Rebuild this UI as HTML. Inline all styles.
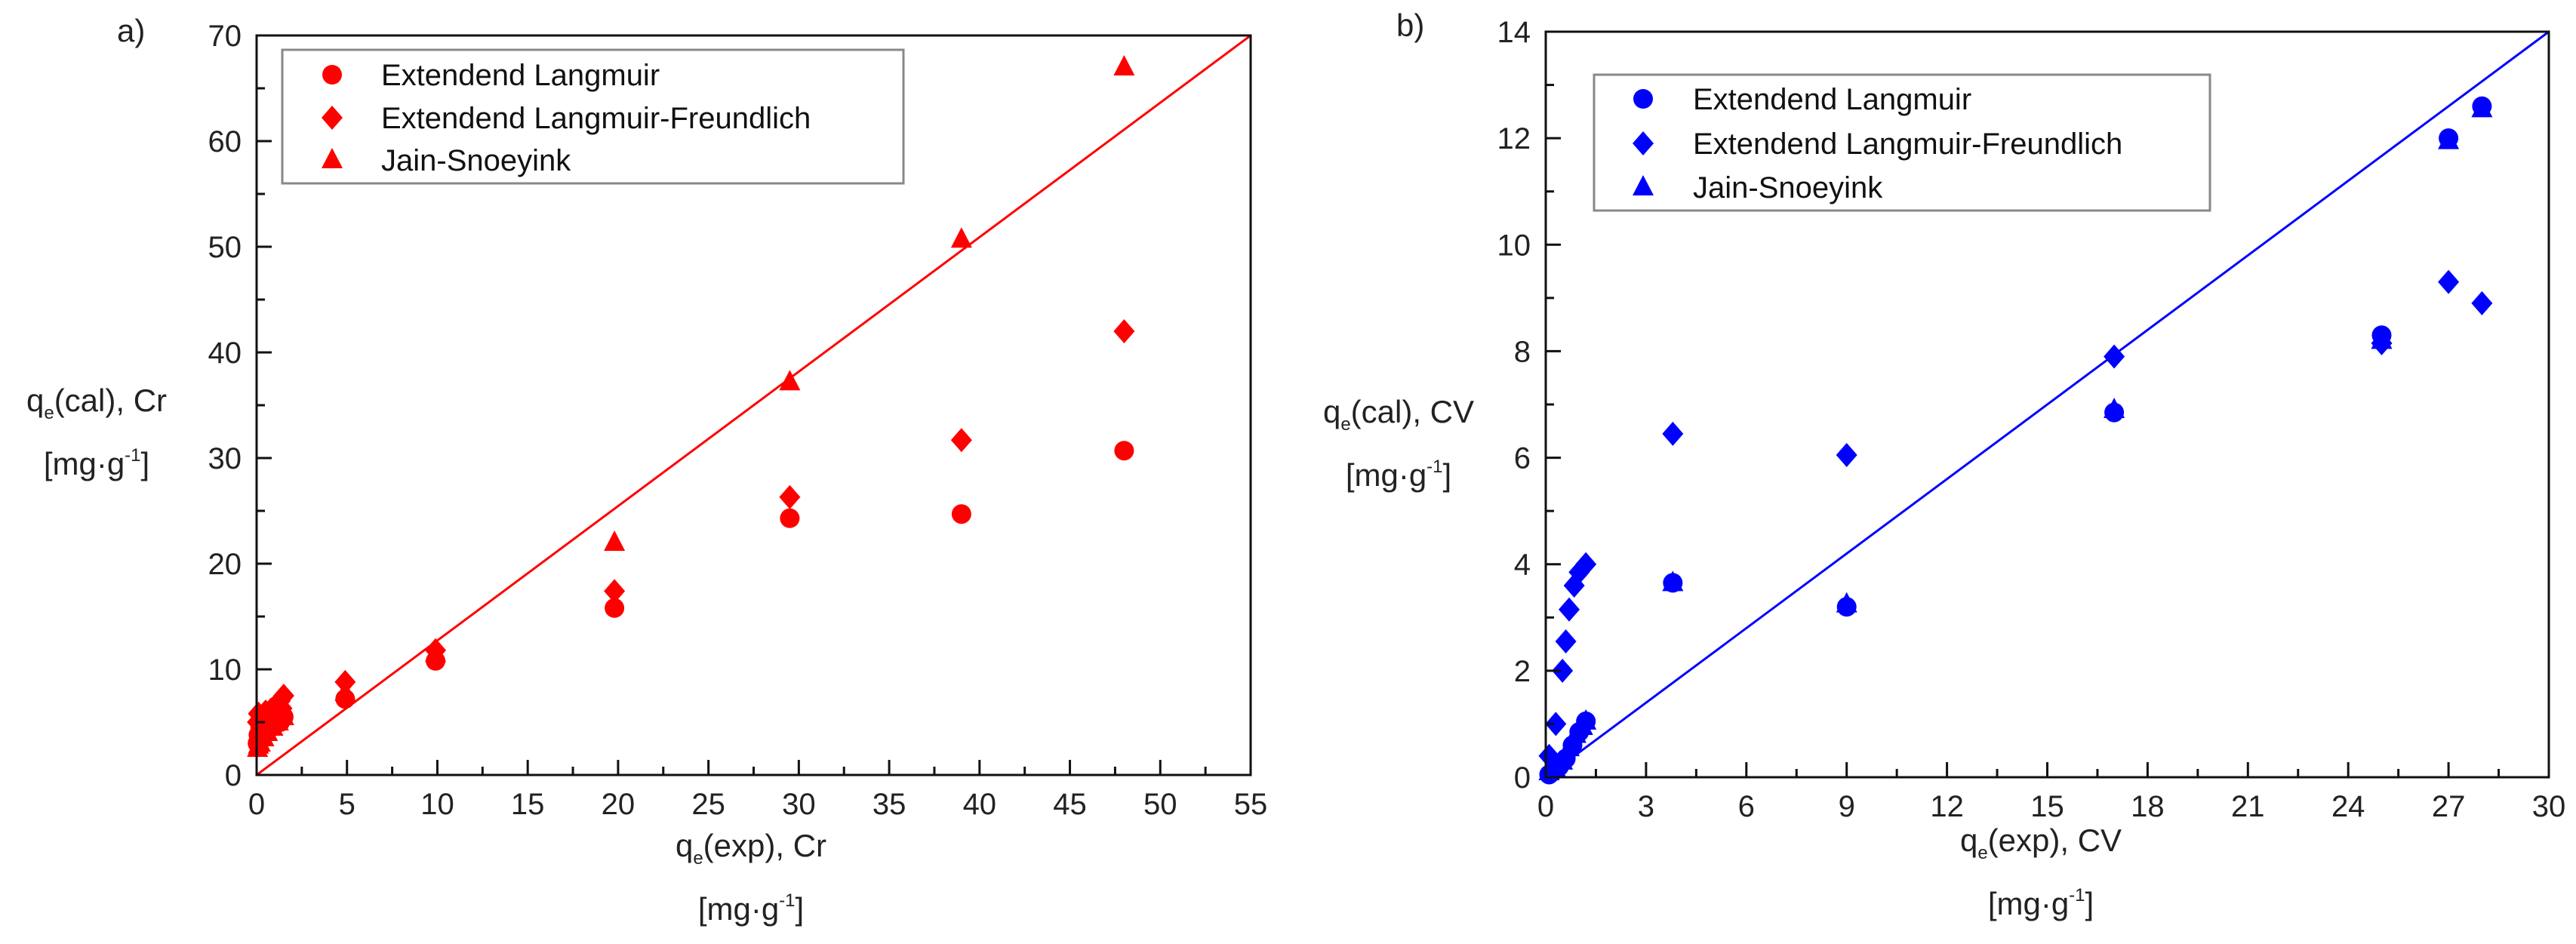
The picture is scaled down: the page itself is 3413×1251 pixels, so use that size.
<!DOCTYPE html>
<html><head><meta charset="utf-8"><style>
html,body{margin:0;padding:0;background:#fff;}
svg{display:block;font-family:"Liberation Sans",Arial,sans-serif;}
</style></head><body>
<svg id="fig" width="3413" height="1251" viewBox="0 0 3413 1251" xmlns="http://www.w3.org/2000/svg"></svg>
<script>
// ---- Panel a (Cr) data ----
const crLangX = [0.05,0.1,0.2,0.3,0.5,0.6,0.8,1.0,1.2,1.3,1.5,4.9,9.9,19.8,29.5,39,48];
const crLangY = [3,3.8,4.5,5,4.2,5.5,4.5,4.8,5.5,5,5.5,7.2,10.8,15.8,24.3,24.7,30.7];
const crLfX = [0.05,0.1,0.3,0.5,0.8,1.0,1.3,1.4,1.5,4.9,9.9,19.8,29.5,39,48];
const crLfY = [5,5.8,5.5,6,6.2,6.5,7,6.3,7.5,8.8,11.8,17.4,26.3,31.7,42];
const crJsX = [0.05,0.1,0.2,0.4,0.6,0.9,1.2,1.5,4.9,9.9,19.8,29.5,39,48];
const crJsY = [2.5,2.8,3,3.5,4,4.5,5,5.5,7.8,11.5,22,37.2,50.7,67];
const crXTicks = [0,5,10,15,20,25,30,35,40,45,50,55];
const crYTicks = [0,10,20,30,40,50,60,70];
// ---- Panel b (CV) data ----
const cvLangX = [0.1,0.2,0.4,0.6,0.8,1.0,1.2,3.8,9,17,25,27,28];
const cvLangY = [0.05,0.1,0.2,0.35,0.6,0.85,1.05,3.65,3.2,6.85,8.3,12,12.6];
const cvLfX = [0.1,0.3,0.5,0.6,0.7,0.85,1.0,1.2,3.8,9,17,25,27,28];
const cvLfY = [0.4,1.0,2.0,2.55,3.15,3.6,3.85,4.0,6.45,6.05,7.9,8.15,9.3,8.9];
const cvJsX = [0.1,0.3,0.5,0.7,0.9,1.1,1.2,3.8,9,17,25,27,28];
const cvJsY = [0.1,0.15,0.3,0.55,0.8,0.95,1.05,3.65,3.25,6.9,8.2,11.95,12.55];
const cvXTicks = [0,3,6,9,12,15,18,21,24,27,30];
const cvYTicks = [0,2,4,6,8,10,12,14];

const NS='http://www.w3.org/2000/svg';
const svg=document.getElementById('fig');
function mk(tag,attrs,parent){const e=document.createElementNS(NS,tag);for(const k in attrs)e.setAttribute(k,attrs[k]);(parent||svg).appendChild(e);return e;}

function panel(p){
  const g=mk('g',{});
  
  
  const sx=v=>p.x0+(v-0)/p.xmax*(p.x1-p.x0);
  const sy=v=>p.y0-(v/p.ymax)*(p.y0-p.y1);
  const ln=mk('line',{x1:sx(0),y1:sy(0),x2:sx(p.xmax),y2:sy(p.ymax),stroke:p.color,'stroke-width':3},g);
  
  
  function marker(type,cx,cy,parent){
    let e;
    if(type==='circle') e=mk('circle',{cx:cx,cy:cy,r:13,fill:p.color},parent);
    else if(type==='diamond') e=mk('polygon',{points:`${cx},${cy-16} ${cx+14},${cy} ${cx},${cy+16} ${cx-14},${cy}`,fill:p.color},parent);
    else e=mk('polygon',{points:`${cx},${cy-16} ${cx+14},${cy+11} ${cx-14},${cy+11}`,fill:p.color},parent);
    return e;
  }
  const series=[['langmuir','circle',p.lx,p.ly],['langmuir-freundlich','diamond',p.fx,p.fy],['jain-snoeyink','triangle',p.jx,p.jy]];
  series.forEach(s=>{
    for(let i=0;i<s[2].length;i++){
      const m=marker(s[1],sx(s[2][i]),sy(s[3][i]),g);
      
      
    }
  });
  const fr=mk('path',{d:`M${p.x0},${p.y1} H${p.x1} V${p.y0} H${p.x0} Z`,fill:'none',stroke:'#111','stroke-width':3},g);
  
  
  const xt=p.xticks;
  for(let i=0;i<xt.length;i++){
    const X=sx(xt[i]);
    mk('line',{x1:X,y1:p.y0,x2:X,y2:p.y0-20,stroke:'#111','stroke-width':3},g);
    if(i<xt.length-1){const Xm=sx((xt[i]+xt[i+1])/2);mk('line',{x1:Xm,y1:p.y0,x2:Xm,y2:p.y0-11,stroke:'#111','stroke-width':3},g);}
    const t=mk('text',{x:X,y:p.y0+52,'font-size':40,'text-anchor':'middle',fill:'#222'},g);
    t.textContent=xt[i];
    
    
  }
  const yt=p.yticks;
  for(let i=0;i<yt.length;i++){
    const Y=sy(yt[i]);
    mk('line',{x1:p.x0,y1:Y,x2:p.x0+20,y2:Y,stroke:'#111','stroke-width':3},g);
    if(i<yt.length-1){const Ym=sy((yt[i]+yt[i+1])/2);mk('line',{x1:p.x0,y1:Ym,x2:p.x0+11,y2:Ym,stroke:'#111','stroke-width':3},g);}
    const t=mk('text',{x:p.x0-20,y:Y+14,'font-size':40,'text-anchor':'end',fill:'#222'},g);
    t.textContent=yt[i];
    
    
  }
  const lg=mk('g',{},g);
  
  
  mk('rect',{x:p.lgx,y:p.lgy,width:p.lgw,height:p.lgh,fill:'#fff',stroke:'#888','stroke-width':3},lg);
  const labels=['Extendend Langmuir','Extendend Langmuir-Freundlich','Jain-Snoeyink'];
  for(let i=0;i<3;i++){
    const ry=p.lgrows[i];
    const m=marker(series[i][1],p.lgmx,ry,lg);
    
    
    const t=mk('text',{x:p.lgtx,y:ry+14,'font-size':40,fill:'#111'},lg);
    t.textContent=labels[i];
    
    
  }
  const pl=mk('text',{x:p.plx,y:p.ply,'font-size':42,fill:'#222'},g);
  pl.textContent=p.id+')';
  
  
  const yti=mk('text',{x:p.ytx,y:p.yty,'font-size':42,'text-anchor':'middle',fill:'#222'},g);
  yti.innerHTML='q<tspan font-size="24" dy="10">e</tspan><tspan dy="-10">(cal), '+p.sub+'</tspan>';
  
  
  const yu=mk('text',{x:p.ytx,y:p.yty+84,'font-size':42,'text-anchor':'middle',fill:'#222'},g);
  yu.innerHTML='[mg·g<tspan font-size="24" dy="-18">-1</tspan><tspan dy="18">]</tspan>';
  
  
  const xti=mk('text',{x:p.xtx,y:p.xty,'font-size':42,'text-anchor':'middle',fill:'#222'},g);
  xti.innerHTML='q<tspan font-size="24" dy="10">e</tspan><tspan dy="-10">(exp), '+p.sub+'</tspan>';
  
  
  const xu=mk('text',{x:p.xtx,y:p.xty+84,'font-size':42,'text-anchor':'middle',fill:'#222'},g);
  xu.innerHTML='[mg·g<tspan font-size="24" dy="-18">-1</tspan><tspan dy="18">]</tspan>';
  
  
}

panel({id:'a',sub:'Cr',color:'#ff0000',x0:340,x1:1657,y0:1027,y1:47,xmax:55,ymax:70,
  lx:crLangX,ly:crLangY,fx:crLfX,fy:crLfY,jx:crJsX,jy:crJsY,xticks:crXTicks,yticks:crYTicks,
  lgx:374,lgy:66,lgw:823,lgh:177,lgmx:440,lgtx:505,lgrows:[99,156,212],
  plx:155,ply:55,ytx:128,yty:545,xtx:995,xty:1135});
panel({id:'b',sub:'CV',color:'#0000ff',x0:2048,x1:3377,y0:1030,y1:42,xmax:30,ymax:14,
  lx:cvLangX,ly:cvLangY,fx:cvLfX,fy:cvLfY,jx:cvJsX,jy:cvJsY,xticks:cvXTicks,yticks:cvYTicks,
  lgx:2112,lgy:99,lgw:816,lgh:180,lgmx:2177,lgtx:2243,lgrows:[131,190,248],
  plx:1850,ply:48,ytx:1853,yty:560,xtx:2704,xty:1128});
</script>
</body></html>
